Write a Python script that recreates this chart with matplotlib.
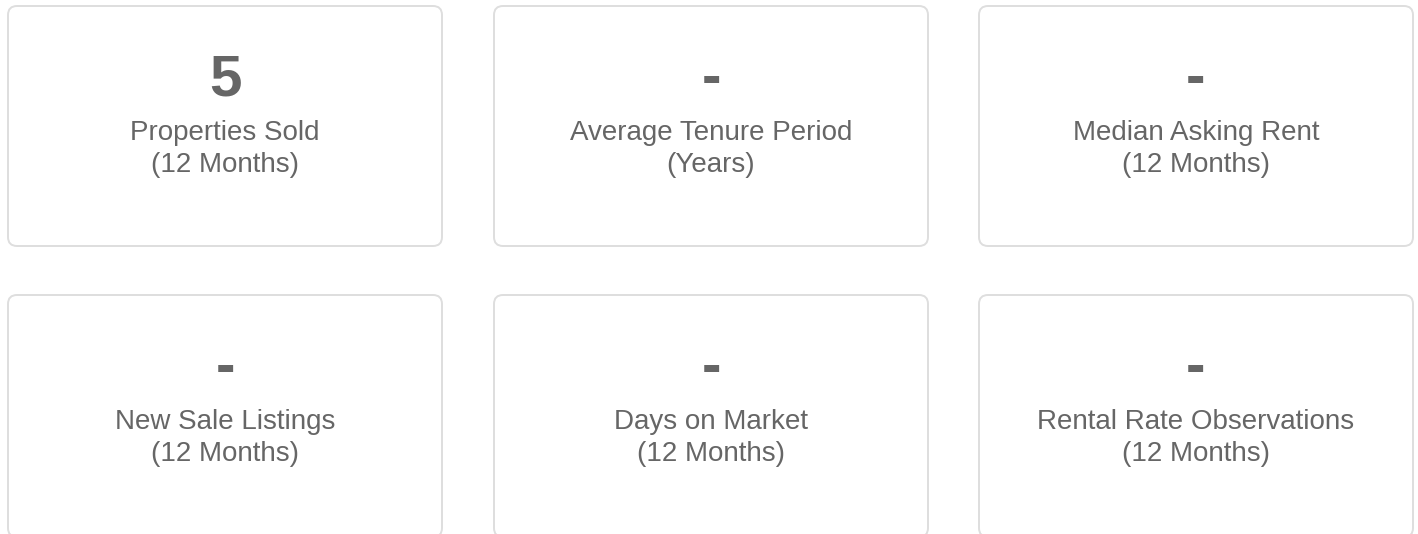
import matplotlib.pyplot as plt
from matplotlib.patches import FancyBboxPatch

# card contents, row by row
values = ["5", "-", "-", "-", "-", "-"]
labels = ["Properties Sold", "Average Tenure Period", "Median Asking Rent",
          "New Sale Listings", "Days on Market", "Rental Rate Observations"]
periods = ["(12 Months)", "(Years)", "(12 Months)",
           "(12 Months)", "(12 Months)", "(12 Months)"]

W, H = 1418, 534
TEXT = "#666666"
BORDER = "#dedede"

plt.rcParams['font.family'] = ['Liberation Sans', 'DejaVu Sans']

fig = plt.figure(figsize=(W / 100, H / 100), dpi=100)
ax = fig.add_axes([0, 0, 1, 1])
ax.set_xlim(0, W)
ax.set_ylim(H, 0)
ax.axis('off')

card_x = [8, 494, 979]
card_y = [6, 295]
card_w = 434
card_h = [240, 242]  # lower row runs off the bottom edge

for i, (val, lab, per) in enumerate(zip(values, labels, periods)):
    x0 = card_x[i % 3]
    y0 = card_y[i // 3]
    box = FancyBboxPatch((x0, y0), card_w, card_h[i // 3],
                         boxstyle="round,pad=0,rounding_size=9",
                         facecolor="white", edgecolor=BORDER, linewidth=1.4)
    ax.add_patch(box)
    cx = x0 + card_w / 2
    ax.text(cx, y0 + 89, val, ha='center', va='baseline', fontsize=42,
            fontweight='bold', color=TEXT)
    ax.text(cx, y0 + 134, lab, ha='center', va='baseline', fontsize=20, color=TEXT)
    ax.text(cx, y0 + 166, per, ha='center', va='baseline', fontsize=20, color=TEXT)

fig.savefig("out.png", dpi=100, facecolor="white")
